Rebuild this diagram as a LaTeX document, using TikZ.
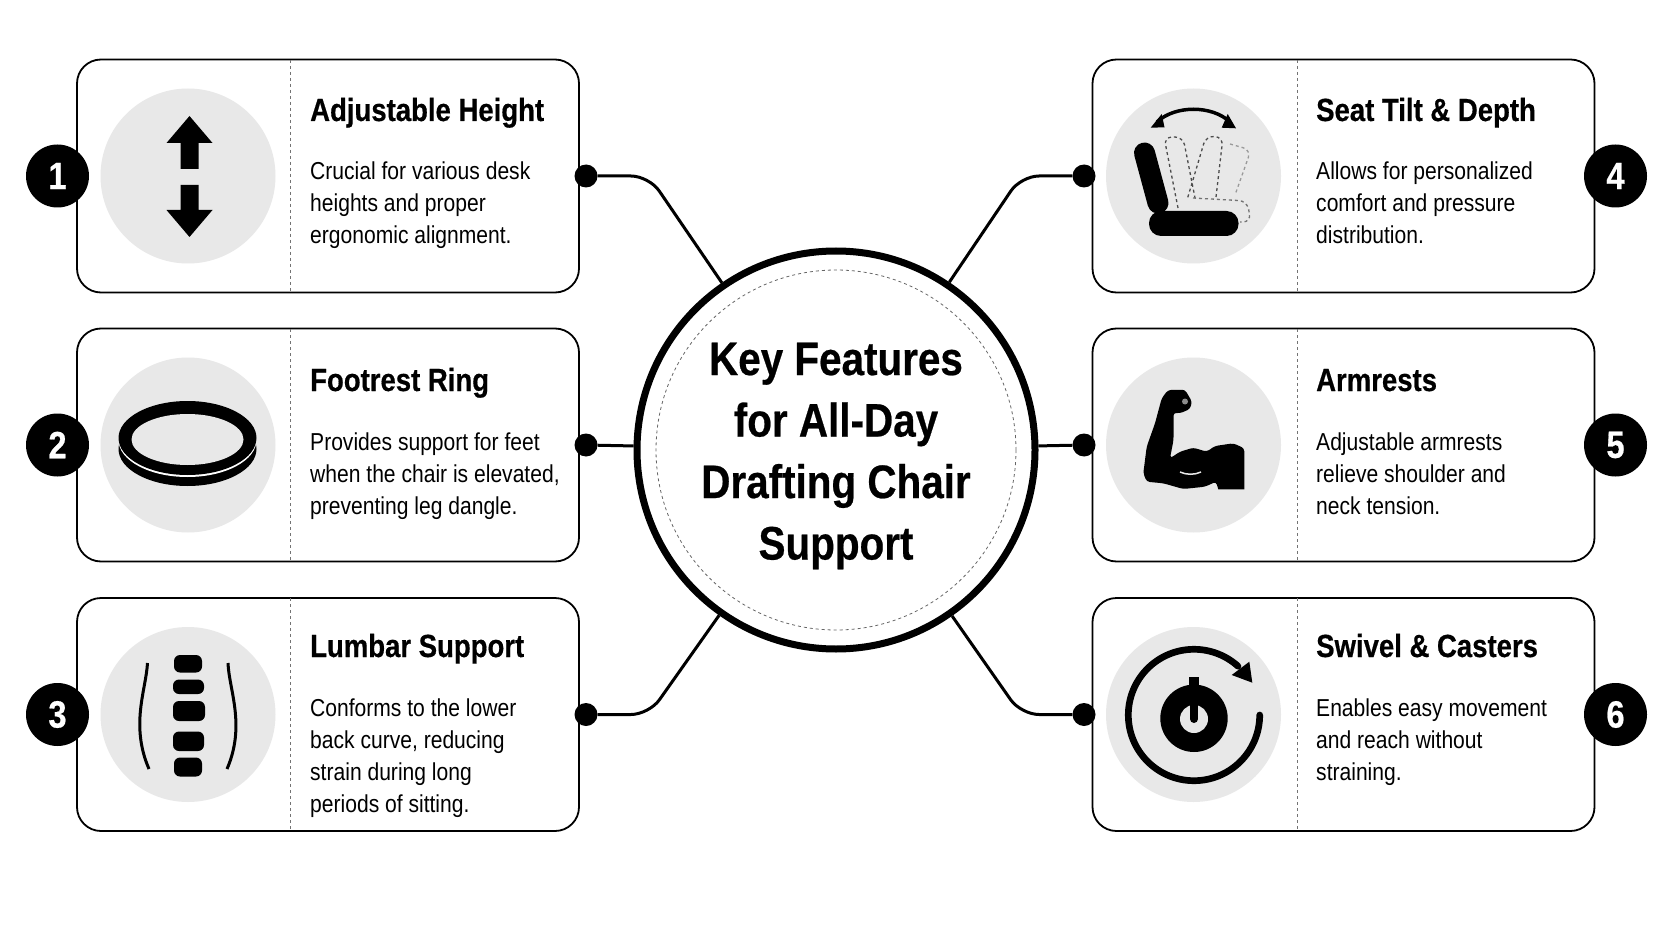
\documentclass[tikz,border=0pt]{standalone}
\usepackage{fontspec}
\setmainfont{Liberation Sans}[FakeStretch=0.86,BoldFeatures={FakeBold=0.5}]
\usepackage{tikz}
\usetikzlibrary{arrows,shapes}
\definecolor{iconbg}{HTML}{E8E8E8}
\tikzstyle{card}=[draw,line width=1.8pt,rounded corners=24pt,fill=white,minimum width=502pt,minimum height=233pt,inner sep=0pt]
\tikzstyle{iconback}=[circle,fill=iconbg,minimum size=175pt,inner sep=0pt]
\tikzstyle{badge}=[circle,fill=black,text=white,minimum size=63pt,inner sep=0pt,font=\bfseries\fontsize{38}{38}\selectfont]
\tikzstyle{dot}=[circle,fill=black,minimum size=23pt,inner sep=0pt]
\tikzstyle{edge}=[draw,line width=3pt,rounded corners=18pt]
\tikzstyle{divider}=[draw=black!55,line width=1pt,dashed]
\tikzstyle{head}=[anchor=base west,inner sep=0pt,font=\bfseries\fontsize{32}{36}\selectfont]
\tikzstyle{body}=[anchor=west,inner sep=0pt,align=left,font=\fontsize{24.5}{32}\selectfont]
\tikzstyle{ghost}=[draw=black!70,line width=1.3pt,dashed,rounded corners=8pt]
\begin{document}
\begin{tikzpicture}[x=1pt,y=-1pt]
      \useasboundingbox (0,0) rectangle (1672,941);
      \fill[white] (0,0) rectangle (1672,941);
      \node[card] (card1) at (328,176) {};
      \node[card] (card2) at (328,445) {};
      \node[card] (card3) at (328,714.5) {};
      \node[card] (card4) at (1343.5,176) {};
      \node[card] (card5) at (1343.5,445) {};
      \node[card] (card6) at (1343.5,714.5) {};
      \draw[divider] (290,60) to (290,292);
      \draw[divider] (290,329) to (290,561);
      \draw[divider] (290,598) to (290,831);
      \draw[divider] (1297,60) to (1297,292);
      \draw[divider] (1297,329) to (1297,561);
      \draw[divider] (1297,598) to (1297,831);
      \node[iconback] (icon1) at (188,176) {};
      \node[iconback] (icon2) at (188,445) {};
      \node[iconback] (icon3) at (188,714.5) {};
      \node[iconback] (icon4) at (1193.5,176) {};
      \node[iconback] (icon5) at (1193.5,445) {};
      \node[iconback] (icon6) at (1193.5,714.5) {};
      \node[circle,draw,line width=7pt,fill=white,minimum size=398pt,inner sep=0pt] (hub) at (836,450) {};
      \node[circle,draw=black!60,line width=.8pt,dashed,minimum size=360pt,inner sep=0pt] (hubring) at (836,450) {};
      \node[align=center,inner sep=0pt,font=\bfseries\fontsize{47}{61.5}\selectfont] (hubtext) at (836,456) {Key Features\\for All-Day\\Drafting Chair\\Support};
      \node[dot] (dot1) at (586,176) {};
      \node[dot] (dot2) at (586,445) {};
      \node[dot] (dot3) at (586,714.5) {};
      \node[dot] (dot4) at (1084,176) {};
      \node[dot] (dot5) at (1084,445) {};
      \node[dot] (dot6) at (1084,714.5) {};
      \coordinate (bend1) at (649,176);
      \coordinate (bend3) at (649,714.5);
      \coordinate (bend4) at (1021,176);
      \coordinate (bend6) at (1021,714.5);
      \draw[edge] (dot1) -- (bend1) -- (hub);
      \draw[edge] (dot2) -- (hub);
      \draw[edge] (dot3) -- (bend3) -- (hub);
      \draw[edge] (dot4) -- (bend4) -- (hub);
      \draw[edge] (dot5) -- (hub);
      \draw[edge] (dot6) -- (bend6) -- (hub);
      \node[badge] (num1) at (57.5,176) {1};
      \node[badge] (num2) at (57.5,445) {2};
      \node[badge] (num3) at (57.5,714.5) {3};
      \node[badge] (num4) at (1615.5,176) {4};
      \node[badge] (num5) at (1615.5,445) {5};
      \node[badge] (num6) at (1615.5,714.5) {6};
      \node[head] (head1) at (310,121) {Adjustable Height};
      \node[head] (head2) at (310,391) {Footrest Ring};
      \node[head] (head3) at (310,657) {Lumbar Support};
      \node[head] (head4) at (1316,121) {Seat Tilt \& Depth};
      \node[head] (head5) at (1316,391) {Armrests};
      \node[head] (head6) at (1316,657) {Swivel \& Casters};
      \node[body] (text1) at (310,205) {Crucial for various desk\\heights and proper\\ergonomic alignment.};
      \node[body] (text2) at (310,476) {Provides support for feet\\when the chair is elevated,\\preventing leg dangle.};
      \node[body] (text3) at (310,758) {Conforms to the lower\\back curve, reducing\\strain during long\\periods of sitting.};
      \node[body] (text4) at (1316,203) {Allows for personalized\\comfort and pressure\\distribution.};
      \node[body] (text5) at (1316,474) {Adjustable armrests\\relieve shoulder and\\neck tension.};
      \node[body] (text6) at (1316,742) {Enables easy movement\\and reach without\\straining.};
      \fill (189.5,116) -- (212.5,143) -- (198.5,143) -- (198.5,169) -- (180.5,169) -- (180.5,143) -- (166.5,143) -- cycle;
      \fill (189.5,237) -- (212.5,210) -- (198.5,210) -- (198.5,185) -- (180.5,185) -- (180.5,210) -- (166.5,210) -- cycle;
      \fill (187.5,449) ellipse [x radius=69pt,y radius=37pt];
      \fill[white] (187.5,440) ellipse [x radius=69pt,y radius=37pt];
      \fill (187.5,438) ellipse [x radius=69pt,y radius=37pt];
      \fill[iconbg] (187.5,439.5) ellipse [x radius=56pt,y radius=25.5pt];
      \fill[rounded corners=6pt] (174,655) rectangle (202,672.5);
      \fill[rounded corners=6pt] (173,679.5) rectangle (204,694);
      \fill[rounded corners=6pt] (173,701) rectangle (205,721);
      \fill[rounded corners=6pt] (173,731.5) rectangle (204,751);
      \fill[rounded corners=6pt] (174,757.5) rectangle (202,776.5);
      \draw[line width=3pt] (147.5,663) .. controls (146,690) and (130,725) .. (149,769);
      \draw[line width=3pt] (228,663) .. controls (229,690) and (246,725) .. (227,769);
      \draw[line width=3.5pt] (1157,122) .. controls (1175,105) and (1212,105) .. (1230,122);
      \fill (1150.7,127.7) -- (1161.7,114) -- (1164.5,127.3) -- cycle;
      \fill (1236,128.3) -- (1227.7,114) -- (1221.7,127.7) -- cycle;
      \draw[line width=21pt,line cap=round] (1144.5,153) to (1158,203);
      \fill[rounded corners=12pt] (1149,211) rectangle (1238.5,236);
      \draw[ghost] (1178,208) -- (1164,137) -- (1183,137) -- (1195,198);
      \draw[ghost] (1216,197) -- (1223,137) -- (1206,136) -- (1187,200);
      \draw[ghost,draw=black!40] (1230,144) -- (1251,150) -- (1235,195);
      \draw[ghost,draw=black!55] (1193,198) -- (1247,201) -- (1251,222) -- (1240,222);
      \fill[rounded corners=3pt] (1161.7,398.3) -- (1168,390) -- (1185,389.7) -- (1192,401.7) -- (1190,409) -- (1180,413.3) -- (1173.5,412.7) -- (1173.5,440) -- (1170,458.3) -- (1180,451.7) -- (1193.3,447.7) -- (1206.7,451.7) -- (1215,446) -- (1233.3,443.3) -- (1244.3,448.3) [sharp corners] -- (1244.3,489.3) -- (1218.3,489.3) [rounded corners=3pt] -- (1216,481.7) -- (1205,486.7) -- (1183.3,489) -- (1163.3,483.3) -- (1146.7,481.7) -- (1143.3,473.3) -- (1146.7,446.7) -- (1155,423.3) -- cycle;
      \fill[black!45] (1185,401.5) circle (3pt);
      \draw[iconbg,line width=1.5pt] (1180,472) .. controls (1186,475) and (1195,475) .. (1201,472);
      \draw[line width=6.7pt,line cap=round] (1259.7,715) arc [start angle=0,end angle=-312,radius=65.7pt];
      \fill (1252.3,682.7) -- (1231.7,675) -- (1249.3,661.7) -- cycle;
      \fill (1194,718.3) circle (33.7pt);
      \fill (1189.3,677.3) rectangle (1199,692);
      \fill[iconbg] (1194,719) circle (14pt);
      \draw[line width=8pt,line cap=round] (1194,692) to (1194,719);
    \end{tikzpicture}
\end{document}
